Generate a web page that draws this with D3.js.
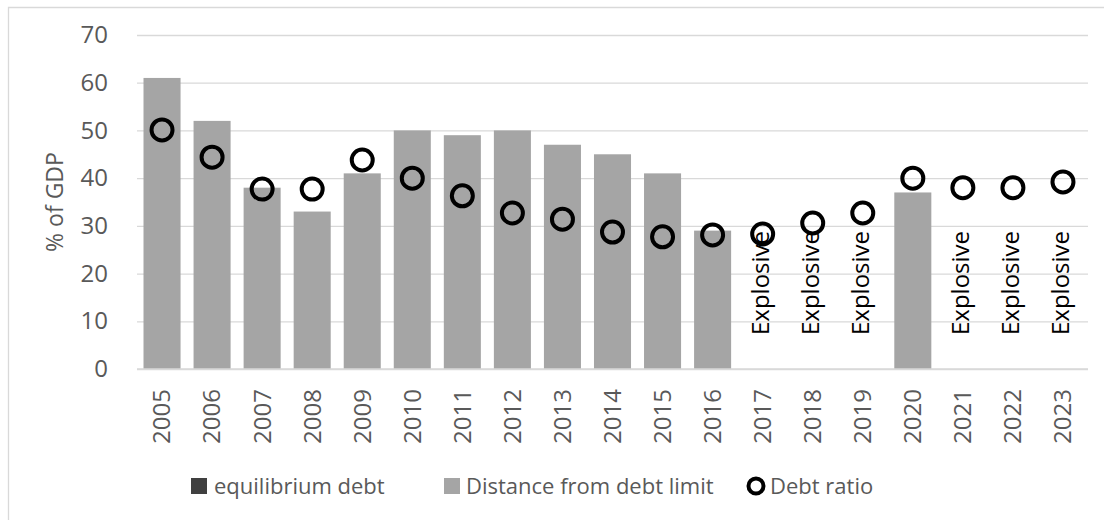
<!DOCTYPE html>
<html>
<head>
<meta charset="utf-8">
<script src="https://cdn.jsdelivr.net/npm/d3@7"></script>
<style>
  body { margin: 0; background: #fff; }
  text { font-family: "Open Sans", "Liberation Sans", sans-serif; }
</style>
</head>
<body>
<svg id="chart" width="1104" height="520"></svg>
<script>
// chart values
var years = ["2005", "2006", "2007", "2008", "2009", "2010", "2011", "2012", "2013", "2014",
             "2015", "2016", "2017", "2018", "2019", "2020", "2021", "2022", "2023"];
var equilibriumDebt = [0, 0, 0, 0, 0, 0, 0, 0, 0, 0, 0, 0, 0, 0, 0, 0, 0, 0, 0];
var distanceFromLimit = [61, 52, 38, 33, 41, 50, 49, 50, 47, 45, 41, 29, null, null, null, 37, null, null, null];
var debtRatio = [50.1, 44.4, 37.7, 37.7, 43.8, 40, 36.3, 32.7, 31.4, 28.7, 27.7, 28.1, 28.3, 30.6, 32.7, 40, 38, 38, 39.2];
var yTicks = [0, 10, 20, 30, 40, 50, 60, 70];
var legendNames = ["equilibrium debt", "Distance from debt limit", "Debt ratio"];

var svg = d3.select("#chart");

// outer chart border (Excel style)
svg.append("path")
  .attr("d", "M8.5,520 L8.5,7.5 L1104,7.5")
  .attr("fill", "none")
  .attr("stroke", "#d9d9d9")
  .attr("stroke-width", 1.3);

var x = d3.scaleBand()
  .domain(years)
  .range([137, 1088])
  .paddingInner(0.26)
  .paddingOuter(0.13);

var y = d3.scaleLinear()
  .domain([0, 70])
  .range([369, 35]);

// gridlines + y labels
var yAxis = d3.axisLeft(y)
  .tickValues(yTicks)
  .tickSize(-(1088 - 137))
  .tickPadding(29);
var gy = svg.append("g")
  .attr("transform", "translate(137,0)")
  .call(yAxis);
gy.select(".domain").remove();
gy.selectAll(".tick line").attr("stroke", "#d9d9d9").attr("stroke-width", 1.3);
gy.selectAll(".tick text")
  .attr("fill", "#595959")
  .style("font-size", "24px")
  .style("font-family", "'Open Sans', sans-serif");

// y axis title
svg.append("text")
  .attr("transform", "translate(55,202) rotate(-90)")
  .attr("text-anchor", "middle")
  .attr("dy", "0.35em")
  .attr("fill", "#595959")
  .style("font-size", "23px")
  .text("% of GDP");

// bars: equilibrium debt (zero) stacked under distance
svg.append("g").selectAll("rect.eq")
  .data(years)
  .enter().append("rect")
    .attr("class", "eq")
    .attr("x", function(d) { return x(d); })
    .attr("width", x.bandwidth())
    .attr("y", function(d, i) { return y(equilibriumDebt[i]); })
    .attr("height", function(d, i) { return y(0) - y(equilibriumDebt[i]); })
    .attr("fill", "#404040");

svg.append("g").selectAll("rect.dist")
  .data(years.filter(function(d, i) { return distanceFromLimit[i] !== null; }))
  .enter().append("rect")
    .attr("class", "dist")
    .attr("x", function(d) { return x(d); })
    .attr("width", x.bandwidth())
    .attr("y", function(d) {
      var i = years.indexOf(d);
      return y(equilibriumDebt[i] + distanceFromLimit[i]);
    })
    .attr("height", function(d) {
      var i = years.indexOf(d);
      return y(equilibriumDebt[i]) - y(equilibriumDebt[i] + distanceFromLimit[i]);
    })
    .attr("fill", "#a5a5a5");

// baseline
svg.append("line")
  .attr("x1", 137).attr("x2", 1088)
  .attr("y1", y(0)).attr("y2", y(0))
  .attr("stroke", "#d9d9d9")
  .attr("stroke-width", 1.3);

// "Explosive" labels where there is no distance bar
svg.append("g").selectAll("text.expl")
  .data(years.filter(function(d, i) { return distanceFromLimit[i] === null; }))
  .enter().append("text")
    .attr("class", "expl")
    .attr("transform", function(d) {
      return "translate(" + (x(d) + x.bandwidth() / 2 - 2) + "," + (y(0) - 34) + ") rotate(-90)";
    })
    .attr("dy", "0.35em")
    .attr("fill", "#000")
    .style("font-size", "24px")
    .text("Explosive");

// debt ratio markers
svg.append("g").selectAll("circle")
  .data(debtRatio)
  .enter().append("circle")
    .attr("cx", function(d, i) { return x(years[i]) + x.bandwidth() / 2; })
    .attr("cy", function(d) { return y(d); })
    .attr("r", 10.5)
    .attr("fill", "none")
    .attr("stroke", "#000")
    .attr("stroke-width", 4);

// x labels
svg.append("g").selectAll("text.year")
  .data(years)
  .enter().append("text")
    .attr("class", "year")
    .attr("transform", function(d) {
      return "translate(" + (x(d) + x.bandwidth() / 2) + ",389) rotate(-90)";
    })
    .attr("text-anchor", "end")
    .attr("dy", "0.35em")
    .attr("fill", "#595959")
    .style("font-size", "24px")
    .text(function(d) { return d; });

// legend
var lg = svg.append("g");
lg.append("rect").attr("x", 191).attr("y", 478).attr("width", 16).attr("height", 16).attr("fill", "#404040");
lg.append("text").attr("x", 214).attr("y", 486).attr("dy", "0.35em")
  .attr("fill", "#595959").style("font-size", "22px").text(legendNames[0]);
lg.append("rect").attr("x", 444).attr("y", 478).attr("width", 16).attr("height", 16).attr("fill", "#a5a5a5");
lg.append("text").attr("x", 466).attr("y", 486).attr("dy", "0.35em")
  .attr("fill", "#595959").style("font-size", "22px").text(legendNames[1]);
lg.append("circle").attr("cx", 756).attr("cy", 486).attr("r", 7.5)
  .attr("fill", "none").attr("stroke", "#000").attr("stroke-width", 4);
lg.append("text").attr("x", 770).attr("y", 486).attr("dy", "0.35em")
  .attr("fill", "#595959").style("font-size", "22px").text(legendNames[2]);
</script>
</body>
</html>
